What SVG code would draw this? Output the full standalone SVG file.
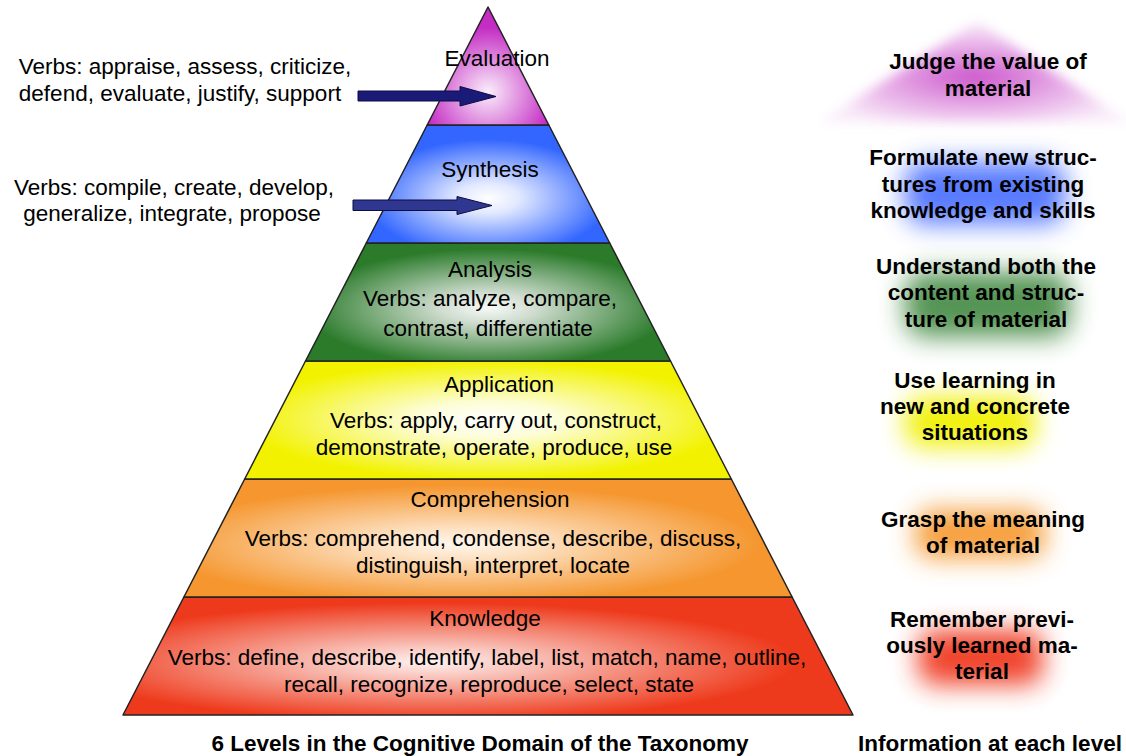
<svg xmlns="http://www.w3.org/2000/svg" width="1126" height="756" viewBox="0 0 1126 756">
  <defs>
    <style>
      text { font-family: "Liberation Sans", Arial, sans-serif; font-size: 22.5px; fill: #000; }
      .mid { text-anchor: middle; }
      .note { font-weight: bold; text-anchor: middle; }
      .band { stroke: #222; stroke-width: 1.5; stroke-linejoin: round; }
      .arrow { stroke: #0d0d40; stroke-width: 1; }
    </style>
    <!-- centre-lit fills for the pyramid bands -->
    <radialGradient id="gEval" cx="0.5" cy="0.72" r="0.55">
      <stop offset="0" stop-color="#fbeefb"/>
      <stop offset="0.3" stop-color="#eab4ea"/>
      <stop offset="1" stop-color="#c42cc4"/>
    </radialGradient>
    <radialGradient id="gSyn" cx="0.5" cy="0.62" r="0.5">
      <stop offset="0" stop-color="#ffffff"/>
      <stop offset="0.25" stop-color="#e2e9ff"/>
      <stop offset="1" stop-color="#3366ff"/>
    </radialGradient>
    <radialGradient id="gAna" cx="0.5" cy="0.55" r="0.5">
      <stop offset="0" stop-color="#f6f9f6"/>
      <stop offset="0.25" stop-color="#d2ded2"/>
      <stop offset="1" stop-color="#2b7b2b"/>
    </radialGradient>
    <radialGradient id="gApp" cx="0.5" cy="0.5" r="0.5">
      <stop offset="0" stop-color="#ffffff"/>
      <stop offset="0.3" stop-color="#fdfdd8"/>
      <stop offset="1" stop-color="#f2f200"/>
    </radialGradient>
    <radialGradient id="gCom" cx="0.45" cy="0.55" r="0.5">
      <stop offset="0" stop-color="#fff7ee"/>
      <stop offset="0.25" stop-color="#fde2c4"/>
      <stop offset="1" stop-color="#f5962e"/>
    </radialGradient>
    <radialGradient id="gKno" cx="0.42" cy="0.55" r="0.5">
      <stop offset="0" stop-color="#fff2f0"/>
      <stop offset="0.25" stop-color="#f9c6be"/>
      <stop offset="1" stop-color="#ee3a1c"/>
    </radialGradient>
    <radialGradient id="gMagGlow" cx="0.5" cy="0.55" r="0.55">
      <stop offset="0" stop-color="#c02cc0"/>
      <stop offset="0.45" stop-color="#dc88dc"/>
      <stop offset="1" stop-color="#f8e8f8"/>
    </radialGradient>
    <filter id="soft" x="-40%" y="-60%" width="180%" height="220%">
      <feGaussianBlur stdDeviation="13"/>
    </filter>
    <filter id="feather" x="-20%" y="-30%" width="140%" height="160%">
      <feGaussianBlur stdDeviation="6"/>
    </filter>
  </defs>

  <rect width="1126" height="756" fill="#ffffff"/>

  <!-- pyramid levels, bottom to top -->
  <g id="knowledge">
    <polygon class="band" points="183.9,597 792.1,597 853,715 123,715" fill="url(#gKno)"/>
    <text class="mid" x="485" y="626">Knowledge</text>
    <text class="mid" x="487" y="665">Verbs: define, describe, identify, label, list, match, name, outline,</text>
    <text class="mid" x="489" y="692">recall, recognize, reproduce, select, state</text>
  </g>
  <g id="comprehension">
    <polygon class="band" points="244.7,479 731.3,479 792.1,597 183.9,597" fill="url(#gCom)"/>
    <text class="mid" x="490" y="507">Comprehension</text>
    <text class="mid" x="493" y="546">Verbs: comprehend, condense, describe, discuss,</text>
    <text class="mid" x="493" y="573">distinguish, interpret, locate</text>
  </g>
  <g id="application">
    <polygon class="band" points="305.5,361 670.5,361 731.3,479 244.7,479" fill="url(#gApp)"/>
    <text class="mid" x="499" y="392">Application</text>
    <text class="mid" x="496" y="428">Verbs: apply, carry out, construct,</text>
    <text class="mid" x="494" y="455">demonstrate, operate, produce, use</text>
  </g>
  <g id="analysis">
    <polygon class="band" points="366.3,243 609.7,243 670.5,361 305.5,361" fill="url(#gAna)"/>
    <text class="mid" x="490" y="277">Analysis</text>
    <text class="mid" x="490" y="306">Verbs: analyze, compare,</text>
    <text class="mid" x="488" y="336">contrast, differentiate</text>
  </g>
  <g id="synthesis">
    <polygon class="band" points="427.2,125 548.8,125 609.7,243 366.3,243" fill="url(#gSyn)"/>
    <text class="mid" x="490" y="177">Synthesis</text>
  </g>
  <g id="evaluation">
    <polygon class="band" points="488,7 548.8,125 427.2,125" fill="url(#gEval)"/>
    <text class="mid" x="497" y="66">Evaluation</text>
  </g>

  <!-- verb lists beside the narrow upper levels -->
  <g id="evaluation-verbs">
    <text class="mid" x="185" y="74">Verbs: appraise, assess, criticize,</text>
    <text class="mid" x="180" y="101">defend, evaluate, justify, support</text>
  </g>
  <g id="synthesis-verbs">
    <text class="mid" x="174" y="195">Verbs: compile, create, develop,</text>
    <text class="mid" x="172" y="221">generalize, integrate, propose</text>
  </g>

  <!-- block arrows pointing into the upper levels -->
  <g id="connectors">
    <polygon class="arrow" fill="#1a1a78" points="358,91 460,91 460,86.5 496,96.5 460,106 460,101 358,101"/>
    <polygon class="arrow" fill="#2f3790" points="353,200 457,200 457,196.5 492,205.5 457,214.5 457,210.5 353,210.5"/>
  </g>

  <!-- descriptions of each level, on coloured glows -->
  <g id="note-evaluation">
    <polygon points="977,22 1130,122 820,122" fill="url(#gMagGlow)" opacity="0.8" filter="url(#feather)"/>
    <text class="note" x="988" y="69">Judge the value of</text>
    <text class="note" x="988" y="96">material</text>
  </g>
  <g id="note-synthesis">
    <rect x="905" y="162" width="160" height="62" rx="20" fill="#3a64ff" opacity="0.85" filter="url(#soft)"/>
    <text class="note" x="983" y="165">Formulate new struc-</text>
    <text class="note" x="983" y="192">tures from existing</text>
    <text class="note" x="983" y="218">knowledge and skills</text>
  </g>
  <g id="note-analysis">
    <rect x="905" y="272" width="165" height="65" rx="20" fill="#2b7a2b" opacity="0.8" filter="url(#soft)"/>
    <text class="note" x="986" y="274">Understand both the</text>
    <text class="note" x="986" y="300">content and struc-</text>
    <text class="note" x="986" y="327">ture of material</text>
  </g>
  <g id="note-application">
    <rect x="905" y="397" width="130" height="50" rx="18" fill="#f0f000" opacity="0.95" filter="url(#soft)"/>
    <text class="note" x="975" y="388">Use learning in</text>
    <text class="note" x="975" y="414">new and concrete</text>
    <text class="note" x="975" y="440">situations</text>
  </g>
  <g id="note-comprehension">
    <rect x="915" y="510" width="130" height="48" rx="18" fill="#f59a30" opacity="0.95" filter="url(#soft)"/>
    <text class="note" x="983" y="527">Grasp the meaning</text>
    <text class="note" x="983" y="553">of material</text>
  </g>
  <g id="note-knowledge">
    <rect x="918" y="630" width="125" height="55" rx="18" fill="#f03a22" opacity="0.95" filter="url(#soft)"/>
    <text class="note" x="982" y="627">Remember previ-</text>
    <text class="note" x="982" y="653">ously learned ma-</text>
    <text class="note" x="982" y="679">terial</text>
  </g>

  <!-- column captions -->
  <g id="captions">
    <text class="note" x="480" y="751">6 Levels in the Cognitive Domain of the Taxonomy</text>
    <text class="note" x="990" y="751">Information at each level</text>
  </g>
</svg>
